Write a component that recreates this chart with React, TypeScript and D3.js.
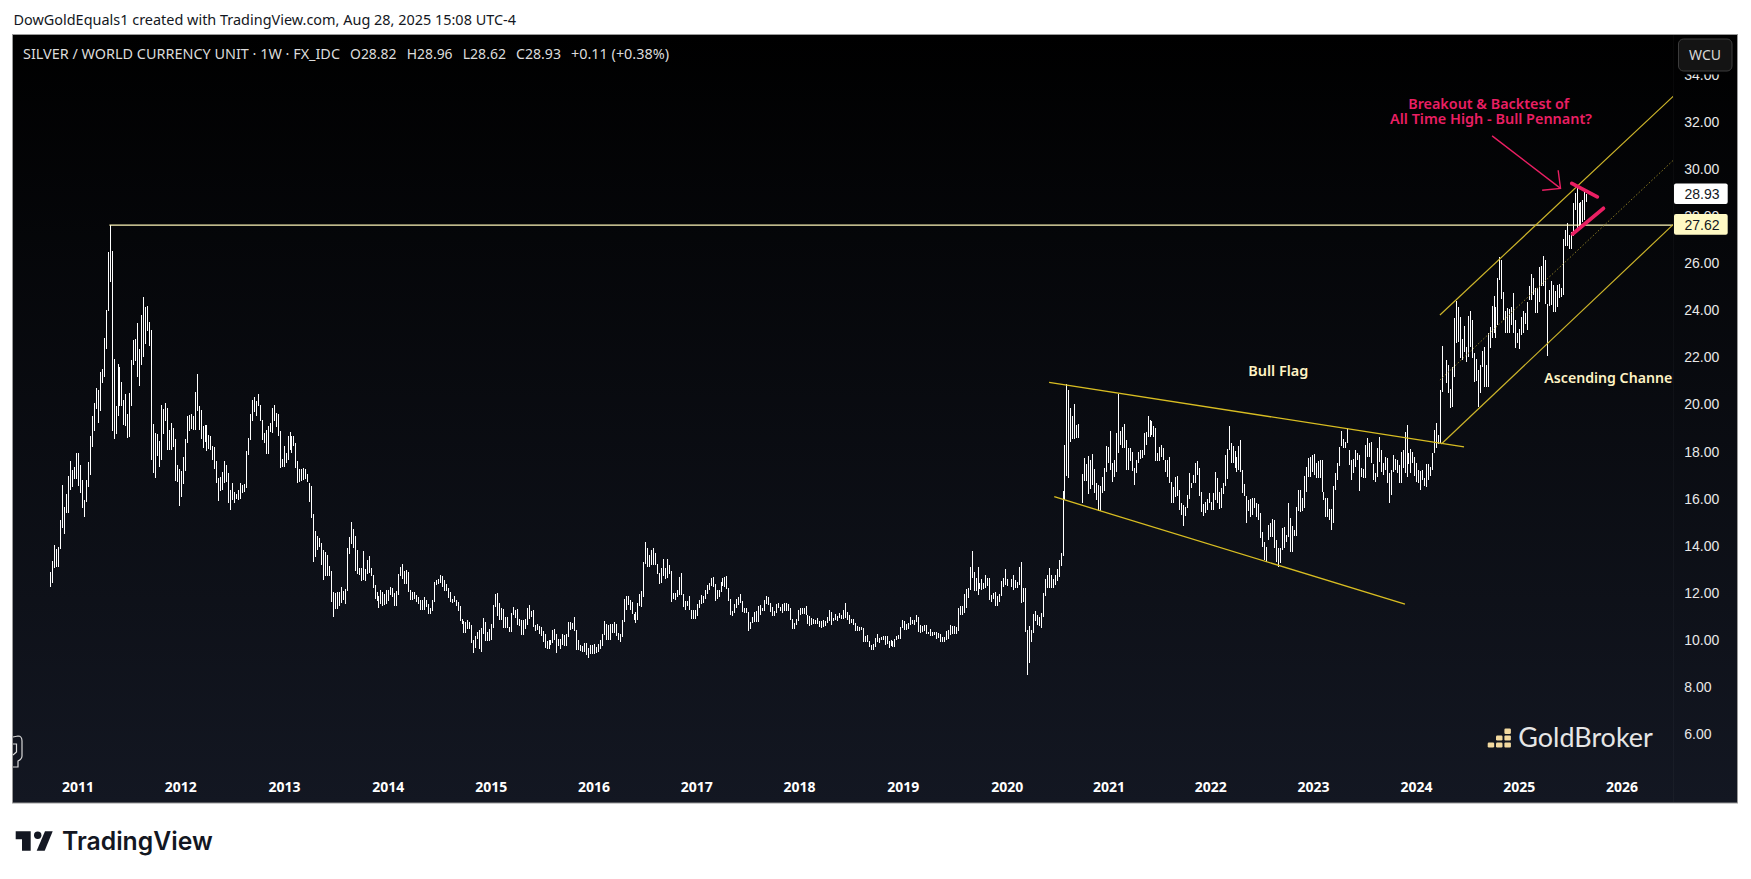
import React from "react";
import * as d3 from "d3";

type Pair = [number, number];

// Weekly high / low, grouped in runs with the week index each run starts at.
const run2010: Pair[] = [[12.88,12.26],[13.35,12.43],[14.03,13.07],[13.86,13.11],[13.93,13.11],[15.09,13.87],[16.57,14.77],[15.63,14.51],[16.2,15.4],[16.96,15.4],[17.58,16.38],[17.22,16.51],[17.34,16.85],[17.92,16.85],[17.92,16.55],[17.43,16.25],[16.8,15.62],[15.94,15.23],[16.8,15.87],[17.56,16.51],[18.66,17.0],[19.51,18.21],[20.06,18.89],[20.7,19.8],[20.62,19.23],[21.37,19.74],[21.5,20.9],[22.83,21.18],[24.02,22.37],[26.48,23.95],[27.62,25.22],[26.5,18.89],[21.92,18.55],[19.94,18.75],[21.7,19.53],[21.59,19.94],[20.94,19.94],[20.18,19.13],[20.45,19.1],[19.6,18.58],[20.49,18.63],[21.89,19.94],[22.74,21.68],[22.78,21.85],[23.46,21.17],[22.36,20.8],[23.8,21.68],[24.57,22.03],[24.14,22.56],[24.19,23.12],[23.5,22.49],[23.17,17.64],[19.17,17.09],[18.79,16.88],[18.75,17.81],[18.45,17.34],[19.98,17.64],[19.81,18.75],[20.06,19.3],[19.85,18.07],[18.92,18.07],[19.21,18.07],[19.0,18.18],[18.53,16.75],[17.43,16.69],[17.26,15.69],[17.17,16.07],[17.77,16.62],[18.53,17.19],[19.51,18.36],[19.55,18.87],[19.6,18.94],[19.51,18.92],[20.53,18.92],[21.3,19.72],[19.94,18.92],[19.77,18.53],[19.09,18.15],[19.13,18.41],[19.13,18.02],[18.7,18.11],[18.66,18.07],[18.24,17.64],[18.2,17.26],[17.6,16.66],[16.88,15.9],[16.92,16.32],[17.13,16.37],[17.6,16.66],[17.43,16.7],[17.09,15.81],[16.37,15.52],[16.66,15.94],[16.28,15.81],[16.2,15.98],[16.37,15.94],[16.66,15.98],[16.58,16.24],[16.62,16.28],[18.02,16.45],[18.58,17.85],[19.6,18.49],[20.19,19.3],[20.32,19.68],[20.15,19.51],[20.45,19.94],[19.98,19.3],[19.34,18.49],[18.79,18.36],[18.92,17.9],[19.09,17.9],[19.21,18.83],[19.85,18.79],[19.98,19.3],[19.64,19.04],[19.6,18.66],[18.87,17.3]];
const run2013: Pair[] = [[17.68,17.34],[18.24,17.36],[17.94,17.53],[18.66,17.64],[18.83,18.07],[18.66,17.95],[18.66,18.24],[18.36,17.3],[17.6,16.68],[17.26,16.72],[17.26,16.75],[17.3,16.79],[17.26,16.83],[17.05,16.71],[16.66,15.86],[16.54,15.18],[15.35,13.31],[14.62,13.52],[14.41,13.82],[14.33,13.94],[14.12,13.18],[13.82,12.54]];
const run2013b: Pair[] = [[13.73,12.71],[13.6,12.71],[13.14,12.71],[12.92,11.61],[12.03,10.97],[11.99,11.31],[12.03,11.31],[12.03,11.44],[12.24,11.57],[12.07,11.69],[12.16,11.52],[13.9,12.07],[14.37,13.65],[15.0,14.07],[14.71,13.9],[14.41,12.92],[13.82,12.8],[13.05,12.75],[13.05,12.5],[13.77,12.54],[13.01,12.5],[13.39,12.8],[13.56,12.84],[13.05,12.71],[12.75,12.2],[12.33,11.73],[12.03,11.65],[11.86,11.35],[12.12,11.52],[12.03,11.44],[11.95,11.48],[12.12,11.52],[12.12,11.65],[12.24,11.9],[12.2,11.82],[11.99,11.44],[12.07,11.44],[12.8,11.9],[13.09,12.71],[13.22,12.58],[12.92,12.37],[12.97,12.37],[12.88,12.03],[12.12,11.69],[12.03,11.69],[12.03,11.73],[11.9,11.61],[11.82,11.52],[11.69,11.27],[11.69,11.27],[11.82,11.27],[11.69,11.39],[11.52,11.1],[11.35,11.1],[11.69,11.22],[12.46,11.61],[12.54,12.33],[12.58,12.37],[12.75,12.41],[12.71,12.24],[12.54,12.07],[12.37,12.07],[12.2,11.78],[12.03,11.61],[11.73,11.57],[11.86,11.61],[11.69,11.44],[11.61,11.22],[11.44,10.8],[10.88,10.67],[10.8,10.29],[10.76,10.29],[10.84,10.46],[10.76,10.46],[10.63,9.87],[9.99,9.44],[10.16,9.65],[10.33,10.03],[10.42,9.61],[10.5,9.48],[10.93,10.25],[10.76,9.95],[10.33,9.95],[10.46,9.95],[10.67,9.99],[11.48,10.5],[11.95,11.39],[11.99,11.01],[11.57,10.84],[11.35,10.84],[11.31,10.5],[10.97,10.5],[10.97,10.5],[10.54,10.33],[11.14,10.33],[11.39,11.05],[11.27,10.93],[11.31,10.63],[10.88,10.59]];
const run2015: Pair[] = [[10.84,10.2],[10.84,10.2],[10.88,10.46],[11.35,10.64],[11.47,10.87],[11.23,10.98],[11.27,10.55],[10.63,10.39],[10.67,10.42],[10.59,10.25],[10.54,10.16],[10.37,9.91],[10.25,9.65],[9.95,9.61],[9.99,9.61],[9.99,9.78],[10.42,9.85],[10.46,9.99],[10.25,9.44],[10.03,9.74],[10.03,9.61],[10.25,9.78],[10.2,9.74],[10.25,9.74],[10.76,10.1],[10.76,10.42],[10.71,10.46],[10.97,10.37],[10.42,9.57],[9.99,9.57],[9.78,9.53],[9.74,9.48],[9.87,9.48],[9.87,9.36],[9.65,9.23],[9.78,9.4],[9.78,9.4],[9.82,9.4],[9.7,9.44],[9.82,9.48],[9.99,9.61],[10.25,9.74],[10.8,10.2],[10.67,9.99],[10.63,9.99],[10.67,9.99],[10.67,10.29],[10.76,10.29],[10.67,10.16],[10.29,9.99],[10.25,9.91],[10.84,10.12],[11.73,10.76],[11.86,11.27],[11.86,11.48],[11.69,11.27],[11.61,11.1],[11.1,10.84],[11.18,10.71],[11.57,10.84],[11.95,11.44],[12.07,11.39],[13.31,11.82],[14.16,13.22],[13.9,13.09],[13.6,13.09],[13.82,13.18],[13.9,13.18],[13.69,13.18],[13.22,12.8],[12.84,12.37],[13.05,12.41],[13.43,12.71],[13.05,12.58],[13.43,12.63],[13.18,12.8],[12.92,11.61],[11.99,11.73],[11.99,11.69],[12.12,11.82],[12.67,11.9],[12.84,11.9],[11.95,11.39],[11.65,11.27],[11.65,11.44],[11.86,11.27],[11.27,10.88],[11.27,10.88],[11.27,10.88],[11.52,11.01],[11.69,11.35],[11.9,11.52],[11.86,11.57],[12.12,11.73],[12.33,11.95],[12.41,12.12],[12.63,12.29],[12.67,12.24],[12.37,11.65],[12.12,11.73],[12.12,11.82],[12.46,12.03],[12.63,12.29],[12.67,12.24],[12.71,12.16],[12.2,11.65],[11.73,11.05],[11.22,11.01],[11.52,11.14],[11.73,11.35],[11.82,11.48],[11.95,11.57],[11.65,11.18],[11.35,11.14],[11.35,11.14],[11.18,10.37],[10.76,10.46],[10.97,10.71],[11.18,10.76],[11.22,10.76],[11.44,10.76],[11.48,11.05],[11.35,11.22],[11.69,11.22],[11.86,11.52],[11.82,11.48],[11.57,11.18],[11.39,11.01],[11.22,11.01],[11.52,11.14],[11.57,11.35],[11.39,11.22],[11.52,11.14],[11.57,11.22],[11.57,11.22],[11.52,11.22],[11.35,10.84],[10.88,10.46],[10.71,10.46],[10.88,10.63],[11.27,10.8],[11.35,11.05],[11.35,11.1],[11.35,11.1],[11.44,11.05],[11.05,10.67],[11.01,10.59],[10.93,10.63],[10.88,10.67],[10.84,10.67],[10.93,10.67],[10.8,10.54],[10.8,10.5],[10.84,10.54],[10.8,10.59],[10.97,10.71],[11.27,10.8],[11.18,10.63],[10.93,10.8],[11.1,10.84],[11.01,10.8],[11.14,10.93],[11.05,10.88],[11.27,10.88],[11.57,10.93],[11.18,10.84],[11.05,10.67],[10.88,10.71],[10.88,10.63],[10.71,10.37],[10.59,10.37],[10.54,10.37],[10.54,10.42],[10.5,9.91],[10.16,9.91],[10.2,9.91],[9.95,9.7],[9.78,9.57],[9.82,9.57],[10.08,9.7],[10.25,9.91],[10.08,9.87],[10.12,9.99],[10.16,9.99],[10.16,9.78],[10.16,9.82],[9.95,9.65],[9.99,9.74],[9.95,9.7],[10.03,9.7],[10.16,9.99],[10.2,10.03],[10.54,10.03],[10.84,10.5],[10.8,10.42],[10.67,10.42],[10.71,10.46],[10.97,10.63],[10.84,10.67],[10.84,10.63],[11.05,10.76],[10.97,10.33],[10.63,10.29],[10.59,10.33],[10.63,10.37],[10.63,10.25],[10.33,10.25],[10.46,10.16],[10.33,10.16],[10.33,10.2],[10.33,10.03],[10.29,10.08],[10.25,9.91],[10.12,9.91],[10.12,9.91],[10.37,9.99],[10.42,10.03],[10.63,10.2],[10.59,10.25],[10.59,10.25],[10.54,10.25],[11.35,10.37],[11.44,11.05],[11.44,11.05],[11.95,11.14],[12.16,11.35],[12.2,11.78],[13.09,12.12],[13.77,12.63],[12.88,12.07],[12.63,12.07],[13.09,11.9],[12.41,12.16],[12.58,12.12],[12.41,12.16],[12.75,12.2],[12.63,12.29],[12.63,11.69],[11.9,11.61],[11.99,11.73],[12.03,11.44],[11.86,11.44],[11.95,11.61],[12.5,11.86],[12.63,12.24],[13.01,12.33],[12.58,12.29]];
const run2020: Pair[] = [[12.58,12.26],[12.75,12.11],[12.54,12.19],[12.45,12.19],[13.09,12.35],[13.3,11.58],[12.2,11.6],[12.2,10.33],[10.41,8.5],[10.59,9.01],[10.41,9.9],[11.09,10.29],[11.22,10.8],[11.05,10.63],[10.97,10.59],[11.14,10.5],[11.99,10.97],[12.58,11.86],[12.75,12.2],[13.05,12.2],[12.75,12.2],[12.58,12.2],[12.75,12.33],[13.0,12.5],[13.39,12.67],[13.69,13.13],[16.32,13.56],[18.27,15.94],[20.87,16.96],[20.61,16.87],[19.85,18.4],[19.51,18.53],[20.02,18.53],[19.12,18.57],[19.17,18.57]];
const run2020b: Pair[] = [[17.05,15.8],[17.71,16.75],[17.47,16.75],[17.81,16.2],[17.64,16.4],[17.88,16.57],[17.26,16.23],[16.65,15.94],[16.58,15.49],[16.54,15.49],[16.93,16.23],[17.32,16.34],[18.24,17.15],[18.2,17.5],[18.87,17.22],[17.5,16.72],[17.64,16.93],[18.78,17.15],[20.45,17.95],[18.89,18.28],[19.03,18.14],[19.17,18.14],[18.49,17.22],[18.14,17.22],[18.17,17.61],[18.0,17.18],[17.29,16.58],[17.64,17.08],[18.0,17.5],[18.07,17.67],[18.07,17.71],[18.8,17.85],[18.85,18.28],[19.51,18.63],[19.34,18.63],[19.31,18.7],[19.09,18.63],[18.99,17.61],[17.95,17.61],[18.21,17.61],[18.28,17.78],[18.14,17.64],[17.64,17.15],[17.64,16.93],[17.78,16.68],[16.72,15.83],[16.51,15.83],[16.93,16.06],[16.96,16.09],[16.37,15.52],[15.8,15.31],[15.73,14.84],[15.66,15.26],[16.15,15.59],[17.08,15.99],[16.68,16.44],[17.0,16.68],[17.5,16.65],[17.6,17.0],[17.29,16.09],[16.3,15.45],[15.77,15.26],[15.87,15.38],[15.97,15.52],[16.25,15.83],[15.87,15.52],[16.23,15.52],[17.12,15.94],[16.86,15.8],[16.3,15.55],[16.44,15.59],[16.65,16.2],[17.85,16.54],[18.11,16.82],[19.09,18.07],[18.38,17.5],[18.24,17.53],[18.04,17.29],[17.78,17.11],[18.24,17.22],[18.49,17.15],[17.22,16.25],[16.62,16.09],[16.09,14.98],[15.94,15.49],[15.99,15.24],[16.01,15.31],[16.01,15.59],[15.83,15.24],[15.77,15.09],[15.41,14.32],[14.6,13.93],[14.17,13.4],[13.93,13.32],[14.88,14.24],[14.95,14.39],[15.14,14.39],[15.09,13.89],[14.24,13.32],[13.89,13.11],[13.89,13.25],[14.74,13.82],[14.81,13.89],[14.46,14.17],[15.83,14.39],[15.17,13.75],[14.84,13.75],[14.67,14.41],[15.66,14.41],[16.37,15.49],[16.37,15.45],[16.01,15.49],[16.97,15.59],[17.36,16.3],[17.71,16.91],[17.76,16.91],[17.86,17.15],[17.9,17.0],[17.5,16.89],[17.6,16.89],[17.64,16.89],[17.64,16.3],[16.3,15.94],[16.01,15.24],[16.01,15.24],[15.55,15.09],[15.55,14.67],[16.54,14.98],[17.08,16.37],[17.53,16.79],[18.21,17.4],[18.89,18.25],[18.52,18.14],[18.39,18.14],[18.99,18.38],[18.07,17.43],[17.64,16.77],[17.67,17.08],[18.07,17.36],[17.95,17.64],[17.85,16.34],[17.32,16.93],[17.25,16.86],[18.28,16.86],[18.56,17.78],[18.35,17.78],[18.42,17.5],[17.47,16.79],[17.08,16.72],[18.14,16.93],[18.63,17.57],[18.07,17.15],[17.5,17.0],[17.78,17.22],[17.71,16.68],[17.08,15.8],[17.22,16.15],[17.85,17.15],[17.67,17.22],[17.64,17.08],[17.43,16.68],[18.0,16.68],[18.07,17.29],[18.85,17.08],[19.13,16.93],[17.93,17.47],[18.1,17.08],[18.0,17.5],[17.78,16.98],[17.5,16.72],[17.22,16.68],[17.19,16.37],[17.22,16.79],[16.86,16.54],[17.47,16.51],[17.47,16.79],[17.36,16.98],[17.93,17.22],[18.92,17.93],[19.23,18.14],[18.7,18.32],[20.62,18.35],[22.49,20.55]];
const run2024: Pair[] = [[21.89,20.9],[21.66,20.47],[20.66,19.86],[21.6,19.88],[23.67,21.15],[24.38,22.6],[24.15,22.67],[23.72,21.96],[22.78,21.89],[23.33,22.24],[22.46,21.82],[23.76,22.03],[23.97,22.46],[23.59,21.96],[22.17,20.97],[21.92,21.01],[21.46,19.91],[21.68,20.5],[22.27,21.6],[22.46,20.76],[21.68,20.76],[23.02,20.76],[23.3,22.38],[24.18,22.81],[24.61,23.02],[24.15,22.84],[25.37,23.38],[26.25,25.29],[26.14,24.47],[24.79,23.59],[23.98,23.05],[24.08,23.02],[24.05,23.02],[24.13,23.38],[24.72,23.02],[23.59,22.38],[23.05,22.6],[23.19,22.36],[23.73,22.95],[23.98,23.02],[23.87,23.42],[24.37,23.16],[25.03,24.44],[25.54,24.44],[25.37,24.65],[24.93,23.87],[24.93,23.87],[25.82,24.37],[25.88,25.03],[26.31,25.03],[26.14,24.27],[24.27,22.07],[24.86,24.18],[25.24,24.22],[25.07,23.93],[24.82,23.93],[25.07,24.13],[25.12,24.51],[24.93,24.55],[27.03,24.65],[27.41,26.73],[27.69,26.73],[27.2,26.59],[27.31,26.59],[28.54,27.17],[29.0,28.26],[29.28,27.48],[28.57,27.44],[28.61,27.52],[28.69,27.76],[29.08,27.84],[28.96,28.62]];
const runs: [number, Pair[]][] = [[0,run2010],[117,run2013],[139,run2013b],[238,run2015],[486,run2020],[522,run2020b],[706,run2024]];

const priceTicks = [6,8,10,12,14,16,18,20,22,24,26,28,30,32,34];
const yearLabels = [2011,2012,2013,2014,2015,2016,2017,2018,2019,2020,2021,2022,2023,2024,2025,2026];
const yearFirstWeeks = [14,66,118.5,171,223,275,327,379,431.5,484,535.5,587,639,691,743,795];

const flagTop: Pair[] = [[505.2,20.94],[715.1,18.2]];
const flagBottom: Pair[] = [[507.8,16.08],[685.2,11.52]];
const channelUpper: Pair[] = [[702.9,23.8],[821,33.1]];
const channelLower: Pair[] = [[703.6,18.32],[821,27.65]];
const channelMid: Pair[] = [[702.9,21.04],[821,30.38]];
const athLine: Pair[] = [[29.9,27.62],[821,27.62]];
const pennantTop: Pair[] = [[769.6,29.39],[782.5,28.82]];
const pennantBottom: Pair[] = [[770,27.24],[785.6,28.33]];
const arrowShaft: Pair[] = [[729.3,31.41],[763.9,29.18]];
const arrowHead: Pair[] = [[762.7,29.95],[763.9,29.18],[754.6,29.1]];

const lastClose = 28.93;
const athPrice = 27.62;
const headerPieces: [string, number, number][] = [
  ["SILVER / WORLD CURRENCY UNIT · 1W · FX_IDC", 23, 317],
  ["O28.82", 350, 46.5],
  ["H28.96", 406.7, 45.9],
  ["L28.62", 462.7, 43.3],
  ["C28.93", 516, 45],
  ["+0.11 (+0.38%)", 571, 98],
];

const W = 1751, H = 879;
const x = d3.scaleLinear().domain([0, 778]).range([50.3, 1588.4]);
const y = d3.scaleLinear().domain([6, 32]).range([734, 122]);
const line = d3.line<Pair>().x((d) => x(d[0])).y((d) => y(d[1]));
const uiFont = "'Noto Sans', 'Open Sans', sans-serif";
const axisFont = "'Liberation Sans', Arial, sans-serif";

export default function App() {
  return (
    <svg width={W} height={H} viewBox={`0 0 ${W} ${H}`} style={{ position: "absolute", left: 0, top: 0, display: "block", background: "#fff" }}>
      <defs>
        <linearGradient id="bg" x1="0" y1="0" x2="0" y2="1">
          <stop offset="0" stopColor="#000000" />
          <stop offset="1" stopColor="#131722" />
        </linearGradient>
        <clipPath id="pane"><rect x={12} y={34} width={1661} height={736} /></clipPath>
        <clipPath id="axisClip"><rect x={1673} y={74.5} width={64} height={700} /></clipPath>
      </defs>
      <text x={13.4} y={25} fontFamily={uiFont} fontSize={14} fill="#131722" textLength={502.6} lengthAdjust="spacingAndGlyphs">DowGoldEquals1 created with TradingView.com, Aug 28, 2025 15:08 UTC-4</text>
      <rect x={12.5} y={34.5} width={1725} height={768.5} fill="url(#bg)" stroke="#9a9a9a" strokeWidth={1} />
      <line x1={1673.5} x2={1673.5} y1={35} y2={802} stroke="#fff" strokeOpacity={0.03} />

      {headerPieces.map(([t, px, w]) => (
        <text key={t} x={px} y={59} fontFamily={uiFont} fontSize={14} fill="#dcdcdc" textLength={w} lengthAdjust="spacingAndGlyphs">{t}</text>
      ))}

      <g stroke="#ffffff" strokeWidth={1} shapeRendering="crispEdges">
        {runs.map(([start, bars]) =>
          bars.map((b, i) => {
            const px = Math.round(x(start + i)) + 0.5;
            return <line key={start + i} x1={px} x2={px} y1={Math.round(y(b[0]))} y2={Math.round(y(b[1]))} />;
          })
        )}
      </g>

      <g clipPath="url(#pane)" fill="none" strokeLinecap="butt">
        <path d={line(athLine)!} stroke="#fff7b8" strokeWidth={1.2} />
        <path d={line(flagTop)!} stroke="#d8bd22" strokeWidth={1.3} />
        <path d={line(flagBottom)!} stroke="#d8bd22" strokeWidth={1.3} />
        <path d={line(channelUpper)!} stroke="#cdb52a" strokeWidth={1.2} />
        <path d={line(channelLower)!} stroke="#cdb52a" strokeWidth={1.2} />
        <path d={line(channelMid)!} stroke="#8c7c24" strokeWidth={1} strokeDasharray="1.5 2" />
        <path d={line(pennantTop)!} stroke="#ea1f63" strokeWidth={3.8} strokeLinecap="round" />
        <path d={line(pennantBottom)!} stroke="#ea1f63" strokeWidth={3.8} strokeLinecap="round" />
        <path d={line(arrowShaft)!} stroke="#ea1f63" strokeWidth={1.4} />
        <path d={line(arrowHead)!} stroke="#ea1f63" strokeWidth={1.4} />
      </g>

      <g fontFamily={uiFont} fontWeight={600}>
        <text x={1488.7} y={109} textAnchor="middle" fontSize={13.5} fill="#ea1f63" textLength={161} lengthAdjust="spacingAndGlyphs">Breakout &amp; Backtest of</text>
        <text x={1491} y={124} textAnchor="middle" fontSize={13.5} fill="#ea1f63" textLength={202} lengthAdjust="spacingAndGlyphs">All Time High - Bull Pennant?</text>
        <text x={1278.3} y={375.5} textAnchor="middle" fontSize={13.5} fill="#fff3c4" textLength={60} lengthAdjust="spacingAndGlyphs">Bull Flag</text>
        <g clipPath="url(#pane)">
          <text x={1544.3} y={383} fontSize={13.5} fill="#fff3c4" textLength={132} lengthAdjust="spacingAndGlyphs">Ascending Channel</text>
        </g>
      </g>

      <g clipPath="url(#axisClip)" fontFamily={axisFont} fontSize={14} fill="#e8e8e8">
        {priceTicks.map((p) => (
          <text key={p} x={1684.3} y={y(p) + 5}>{p.toFixed(2)}</text>
        ))}
      </g>

      <rect x={1674} y={183.5} width={53.7} height={20.5} rx={2} fill="#ffffff" />
      <text x={1684.5} y={y(lastClose) + 5} fontFamily={axisFont} fontSize={14} fill="#131722">{lastClose.toFixed(2)}</text>
      <rect x={1674} y={214} width={53.7} height={20.7} rx={2} fill="#fff9c4" />
      <text x={1684.5} y={y(athPrice) + 5} fontFamily={axisFont} fontSize={14} fill="#131722">{athPrice.toFixed(2)}</text>

      <rect x={1678.5} y={39} width={53.5} height={32} rx={5} fill="#141414" stroke="#3c3c3c" strokeWidth={1} />
      <text x={1705} y={60} textAnchor="middle" fontFamily={uiFont} fontSize={14} fill="#d8d8d8">WCU</text>

      <g fontFamily={uiFont} fontWeight={700} fontSize={14} fill="#ffffff" textAnchor="middle">
        {yearLabels.map((yr, i) => (
          <text key={yr} x={x(yearFirstWeeks[i])} y={792}>{yr}</text>
        ))}
      </g>

      <g fill="#f2d9a0">
        <rect x={1487.7} y={742.5} width={6.5} height={5} rx={1.2} />
        <rect x={1496} y={742.5} width={6.5} height={5} rx={1.2} />
        <rect x={1496} y={735.5} width={6.5} height={5} rx={1.2} />
        <rect x={1504.4} y={742.5} width={6.5} height={5} rx={1} />
        <rect x={1504.4} y={735.5} width={6.5} height={5} rx={1} />
        <rect x={1504.4} y={728.5} width={6.5} height={5.5} rx={1.2} />
      </g>
      <text x={1518.3} y={747} fontFamily="Lato, 'Open Sans', sans-serif" fontSize={27} fill="#e6e6e6" textLength={134.5} lengthAdjust="spacingAndGlyphs">GoldBroker</text>

      <path d="M13,737 L18,736 Q22,736 22,741 L22,756 Q22,759 18,761 L18,767 L13,767 M13,744 L16.5,744 L16.5,752 L13,755" fill="none" stroke="#d8d8d8" strokeWidth={1.2} />

      <g fill="#131722">
        <path d="M15.7,831.3 H30.7 V850.7 H22 V839.3 H15.7 Z" />
        <circle cx={37.7} cy={835.3} r={3.7} />
        <path d="M45,831.3 H52.7 L44.7,850.7 H36.7 Z" />
      </g>
      <text x={62} y={850} fontFamily="Inter, 'Noto Sans', sans-serif" fontWeight={600} fontSize={25} fill="#131722" textLength={150.7} lengthAdjust="spacingAndGlyphs">TradingView</text>
    </svg>
  );
}
